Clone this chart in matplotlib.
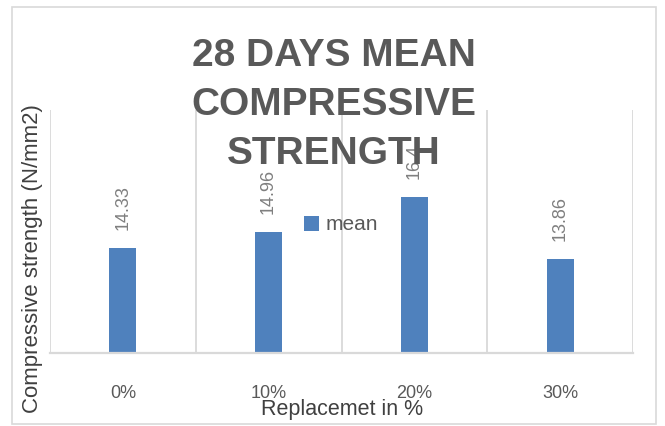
import matplotlib.pyplot as plt
from matplotlib.patches import Rectangle

# 28-day mean compressive strength for each replacement level
categories = ["0%", "10%", "20%", "30%"]
mean_strength = [14.33, 14.96, 16.4, 13.86]
value_labels = ["14.33", "14.96", "16.4", "13.86"]

BLUE = "#4f81bd"
GRID = "#d9d9d9"
DARK = "#595959"
LABEL = "#7f7f7f"

fig = plt.figure(figsize=(6.65, 4.26), dpi=100)
W, H = 665, 426

# chart area border
fig.patches.append(Rectangle((12 / W, 1 - 424 / H), 644 / W, 417 / H,
                             transform=fig.transFigure, fill=False,
                             edgecolor=GRID, linewidth=1.2))

ax = fig.add_axes([50 / W, 1 - 352.7 / H, 583 / W, 242.7 / H])
x = range(len(categories))
bars = ax.bar(x, mean_strength, width=0.185, color=BLUE, label="mean", zorder=2)

ax.set_xlim(-0.5, len(categories) - 0.5)
ax.set_ylim(10, 20)

# category separators instead of a y axis
for b in [i - 0.5 for i in range(len(categories) + 1)]:
    ax.axvline(b, color=GRID, linewidth=1.3, zorder=1)

for s in ["top", "left", "right"]:
    ax.spines[s].set_visible(False)
ax.spines["bottom"].set_color(GRID)
ax.spines["bottom"].set_linewidth(1.6)
ax.set_yticks([])
ax.set_xticks(list(x))
ax.set_xticklabels(categories, fontsize=13, color=DARK, family="Liberation Sans")
ax.tick_params(axis="x", length=0, pad=23)

for bar, lab in zip(bars, value_labels):
    ax.annotate(lab, (bar.get_x() + bar.get_width() / 2, bar.get_height()),
                xytext=(0, 18), textcoords="offset pixels", rotation=90,
                ha="center", va="bottom", fontsize=13, color=LABEL,
                family="Liberation Sans", zorder=4)

fig.text(342 / W, 1 - 410 / H, "Replacemet in %", ha="center", va="center",
         fontsize=15.5, color="#404040", family="Liberation Sans")
fig.text(33 / W, 1 - 259 / H, "Compressive strength (N/mm2)", ha="center",
         va="center", rotation=90, fontsize=16, color="#404040",
         family="Liberation Sans")

fig.text(334 / W, 1 - 105 / H, "28 DAYS MEAN\nCOMPRESSIVE\nSTRENGTH",
         ha="center", va="center", fontsize=28, fontweight="bold",
         color=DARK, family="Liberation Sans",
         linespacing=1.45, zorder=3)

fig.legend(handles=[bars], labels=["mean"], loc="center",
           bbox_to_anchor=(341 / W, 1 - 225 / H), frameon=False,
           handlelength=0.75, handleheight=0.75, handletextpad=0.3,
           prop={"family": "Liberation Sans", "size": 15},
           labelcolor=DARK)

fig.savefig("out.png", dpi=100)
